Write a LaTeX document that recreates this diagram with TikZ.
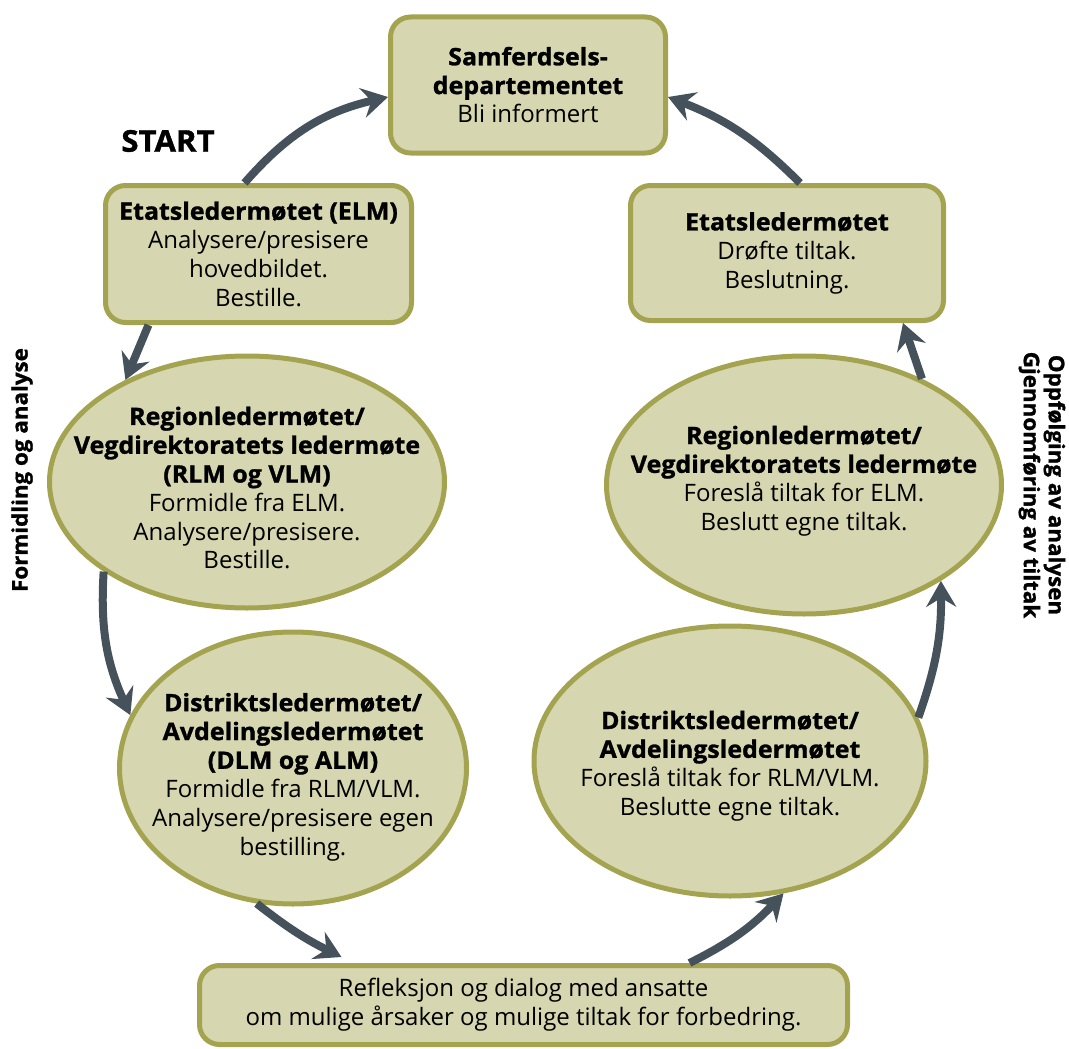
\documentclass[tikz,border=0pt]{standalone}
\usepackage{fontspec}
\setmainfont{Open Sans}[BoldFeatures={FakeStretch=1.04,FakeBold=1.2}]
\usepackage{tikz}
\usetikzlibrary{shapes.geometric,arrows.meta}

\definecolor{boxfill}{RGB}{214,214,176}
\definecolor{boxline}{RGB}{163,163,80}
\definecolor{flow}{RGB}{70,82,91}

\begin{document}
\begin{tikzpicture}[x=1pt,y=-1pt,
    every node/.style={font=\fontsize{24}{28.8}\selectfont,align=center,inner sep=0pt},
    card/.style={draw=boxline,fill=boxfill,line width=5pt,rounded corners=20pt},
    oval/.style={draw=boxline,fill=boxfill,line width=5pt,ellipse},
    flowarrow/.style={draw=flow,line width=8pt,
        -{Stealth[length=26pt,width=30pt,inset=9pt]}},
    side/.style={font=\fontsize{21.5}{25}\selectfont\bfseries}]
    \useasboundingbox (0,0) rectangle (1069,1049);

    % boxes and ellipses
    \node[card,minimum width=275,minimum height=136] (sd) at (528,85)
        {\textbf{Samferdsels-}\\\textbf{departementet}\\Bli informert};
    \node[card,minimum width=306,minimum height=137] (elm) at (258.5,254)
        {\textbf{Etatsledermøtet (ELM)}\\Analysere/presisere\\hovedbildet.\\Bestille.};
    \node[card,minimum width=313,minimum height=135] (elm2) at (787,253)
        {\textbf{Etatsledermøtet}\\Drøfte tiltak.\\Beslutning.};
    \node[oval,minimum width=395,minimum height=252,
        label={[yshift=-6pt]center:{\textbf{Regionledermøtet/}\\\textbf{Vegdirektoratets ledermøte}\\\textbf{(RLM og VLM)}\\Formidle fra ELM.\\Analysere/presisere.\\Bestille.}}]
        (rlm) at (247,482) {};
    \node[oval,minimum width=395,minimum height=258,
        label={[yshift=4pt]center:{\textbf{Regionledermøtet/}\\\textbf{Vegdirektoratets ledermøte}\\Foreslå tiltak for ELM.\\Beslutt egne tiltak.}}]
        (rlm2) at (804,485) {};
    \node[oval,minimum width=347,minimum height=272,
        label={[yshift=-9pt]center:{\textbf{Distriktsledermøtet/}\\\textbf{Avdelingsledermøtet}\\\textbf{(DLM og ALM)}\\Formidle fra RLM/VLM.\\Analysere/presisere egen\\bestilling.}}]
        (dlm) at (293,768) {};
    \node[oval,minimum width=392,minimum height=270,
        label={[yshift=-5pt]center:{\textbf{Distriktsledermøtet/}\\\textbf{Avdelingsledermøtet}\\Foreslå tiltak for RLM/VLM.\\Beslutte egne tiltak.}}]
        (dlm2) at (730,761) {};
    \node[card,minimum width=648,minimum height=79] (refl) at (523.5,1005)
        {Refleksjon og dialog med ansatte\\om mulige årsaker og mulige tiltak for forbedring.};

    % labels
    \node[font=\fontsize{30}{36}\selectfont\bfseries] (start) at (168,141) {START};
    \node[side,rotate=90] (left) at (22,470) {Formidling og analyse};
    \node[side,rotate=-90] (right) at (1042,485)
        {Oppfølging av analysen\\Gjennomføring av tiltak};

    % the cycle
    \draw[flowarrow] ([xshift=-14pt]elm.north) to[bend left=18] ([yshift=-12pt]sd.west);
    \draw[flowarrow] ([xshift=-110pt]elm.south) -- (rlm.140);
    \draw[flowarrow] (rlm.212) to[bend right=14] (dlm.162);
    \draw[flowarrow] (dlm.255) to[bend right=6] ([xshift=-182pt,yshift=6pt]refl.north);
    \draw[flowarrow] ([xshift=166pt]refl.north) to[bend right=10] (dlm2.292);
    \draw[flowarrow] (dlm2.13) to[bend right=10] (rlm2.325);
    \draw[flowarrow] (rlm2.42) -- ([xshift=116pt]elm2.south);
    \draw[flowarrow] ([xshift=13pt]elm2.north) to[bend right=12] ([yshift=-12pt]sd.east);
\end{tikzpicture}
\end{document}
